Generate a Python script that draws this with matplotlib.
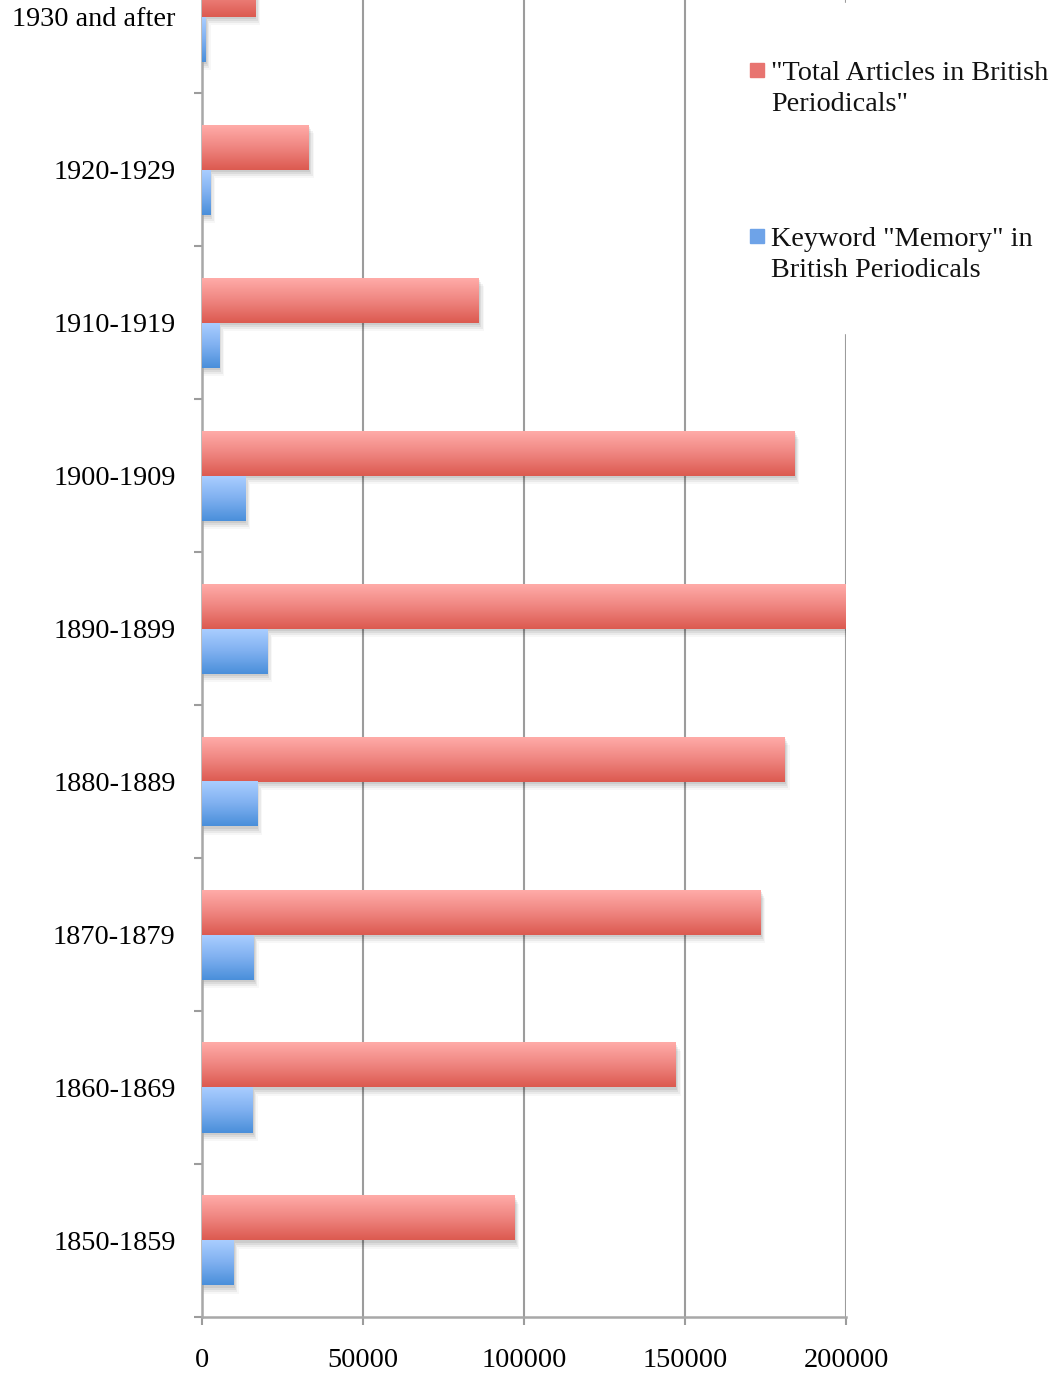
import numpy as np
import matplotlib
matplotlib.use("Agg")
import matplotlib.pyplot as plt
from matplotlib.colors import LinearSegmentedColormap
from matplotlib.patches import Rectangle

# data, bottom category first
decades = ["1850-1859", "1860-1869", "1870-1879", "1880-1889", "1890-1899",
           "1900-1909", "1910-1919", "1920-1929", "1930 and after"]
total_articles = [97000, 147200, 173500, 181000, 200000, 184000, 86000, 33200, 16500]
memory_keyword = [9900, 15800, 16100, 17100, 20200, 13400, 5300, 2500, 1200]
xticks = [0, 50000, 100000, 150000, 200000]
label_total = '"Total Articles in British\nPeriodicals"'
label_memory = 'Keyword "Memory" in\nBritish Periodicals'

plt.rcParams['font.family'] = ['Liberation Serif', 'DejaVu Serif']
plt.rcParams['font.size'] = 20.3
plt.rcParams['text.color'] = '#111111'

W, H = 1052, 1375
fig = plt.figure(figsize=(W / 100, H / 100), dpi=100)
# axes runs a little above the figure, the top band is cut like in the original
ax = fig.add_axes([202 / W, 58 / H, 644 / W, 1377 / H])

red_cmap = LinearSegmentedColormap.from_list("red", ["#ffaba8", "#ef8580", "#dc5a50"])
blue_cmap = LinearSegmentedColormap.from_list("blue", ["#a9cdff", "#7fb0f0", "#4a8fda"])
grad = np.linspace(0, 1, 64).reshape(-1, 1)

h = 45 / 153          # one bar height in category units
ypx = 1 / 153         # one pixel in y units
xpx = 200000 / 644    # one pixel in x units

y = np.arange(len(decades))

# soft drop shadow
for k, a in [(2, 0.07), (4, 0.06), (6, 0.05), (8, 0.03)]:
    ax.barh(y + h / 2 - k * ypx, np.array(total_articles) + k * xpx * 0.6, height=h,
            color='black', alpha=a, lw=0, zorder=2)
    ax.barh(y - h / 2 - k * ypx, np.array(memory_keyword) + k * xpx * 0.6, height=h,
            color='black', alpha=a, lw=0, zorder=2)

for i in range(len(decades)):
    ax.imshow(grad, cmap=red_cmap, extent=(0, total_articles[i], y[i], y[i] + h),
              aspect='auto', origin='upper', interpolation='bilinear', zorder=3)
    ax.imshow(grad, cmap=blue_cmap, extent=(0, memory_keyword[i], y[i] - h, y[i]),
              aspect='auto', origin='upper', interpolation='bilinear', zorder=4)

ax.set_xlim(0, 200000)
ax.set_ylim(-0.5, len(decades) - 0.5)

gray = '#9c9c9c'
ax.set_xticks(xticks, [str(t) for t in xticks])
ax.tick_params(axis='x', length=6, width=1.5, color=gray, pad=16)
ax.set_yticks(np.arange(len(decades) + 1) - 0.5, [''] * (len(decades) + 1))
ax.tick_params(axis='y', which='major', length=6, width=1.5, color=gray)
ax.set_yticks(y, decades, minor=True)
ax.tick_params(axis='y', which='minor', length=0, pad=19)

ax.xaxis.grid(True, color=gray, lw=1.5)
ax.set_axisbelow(True)
for s in ['top', 'right']:
    ax.spines[s].set_visible(False)
for s in ['left', 'bottom']:
    ax.spines[s].set_color('#a8a8a8')
    ax.spines[s].set_linewidth(1.8)

# legend box on top of the right gridline
fig.patches.append(Rectangle((740 / W, 1 - 333 / H), 312 / W, 330 / H,
                             transform=fig.transFigure, color='white', zorder=5))
fig.patches.append(Rectangle((750 / W, 1 - 77 / H), 14 / W, 14 / H,
                             transform=fig.transFigure, color='#e87470', zorder=6))
fig.patches.append(Rectangle((750 / W, 1 - 243 / H), 14 / W, 14 / H,
                             transform=fig.transFigure, color='#6ea3e8', zorder=6))
fig.text(771 / W, 1 - 61 / H, label_total, ha='left', va='top', zorder=7, linespacing=1.32)
fig.text(771 / W, 1 - 227 / H, label_memory, ha='left', va='top', zorder=7, linespacing=1.32)

fig.savefig("out.png", dpi=100)
